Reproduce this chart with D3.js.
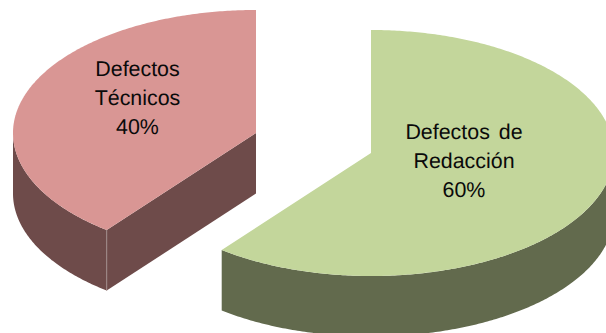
<!DOCTYPE html>
<html>
<head>
<meta charset="utf-8">
<script src="https://cdn.jsdelivr.net/npm/d3@7"></script>
<style>
  html, body { margin: 0; padding: 0; background: #fff; }
  svg { display: block; }
  text { font-family: "Liberation Sans", Arial, sans-serif; font-size: 21.4px; fill: #0a0a0a; text-anchor: middle; text-rendering: geometricPrecision; word-spacing: 3px; }
</style>
</head>
<body>
<svg id="chart" width="606" height="333"></svg>
<script>
const categories = ["Defectos de Redacción", "Defectos Técnicos"];
const shares = [60, 40];
const labelLines = [["Defectos de", "Redacción", "60%"], ["Defectos", "Técnicos", "40%"]];
const topColors = ["#c3d69b", "#d99694"];
const sideColors = ["#626a4d", "#6e4b4a"];
const centers = [[371, 153], [256, 133]];
const labelAnchors = [[464, 139], [137.5, 76]];

const rx = 243, ry = 123, depth = 60.5, lineGap = 29;
const svg = d3.select("#chart");

const slices = d3.pie().sort(null).startAngle(0).endAngle(2 * Math.PI)(shares);

// Slight angular correction from the 3D view, zero at the quarter points.
const warp = a => a + 0.035 * Math.sin(2 * a);
const project = (a, c, drop = 0) => {
  const t = warp(a);
  return [c[0] + rx * Math.sin(t), c[1] - ry * Math.cos(t) + drop];
};
const arcPoints = (a0, a1, c, drop = 0) => {
  const n = Math.max(2, Math.ceil(Math.abs(a1 - a0) / 0.01));
  return d3.range(n + 1).map(i => project(a0 + (a1 - a0) * i / n, c, drop));
};
const line = d3.line();
const HALF = Math.PI / 2;

slices.forEach((s, i) => {
  const c = centers[i];
  const g = svg.append("g").attr("class", "slice");

  // Outer wall: the part of the rim facing the viewer.
  const from = Math.max(s.startAngle, HALF);
  const to = Math.min(s.endAngle, 3 * HALF);
  const wall = arcPoints(from, to, c).concat(arcPoints(to, from, c, depth));
  g.append("path").attr("d", line(wall) + "Z").attr("fill", sideColors[i]);

  // Cut face along the leading radius, visible only on the left slice.
  if (s.startAngle > HALF && s.startAngle < 2 * HALF + 1) {
    const p = project(s.startAngle, c);
    const face = [c, p, [p[0], p[1] + depth], [c[0], c[1] + depth]];
    g.append("path").attr("d", line(face) + "Z").attr("fill", sideColors[i]);
    g.append("line")
      .attr("x1", p[0]).attr("y1", p[1])
      .attr("x2", p[0]).attr("y2", p[1] + depth)
      .attr("stroke", "#a08c8b").attr("stroke-width", 1);
  }

  // Top surface.
  const top = [c].concat(arcPoints(s.startAngle, s.endAngle, c));
  g.append("path").attr("d", line(top) + "Z").attr("fill", topColors[i]);

  // Data label.
  const label = g.append("text").attr("aria-label", categories[i]);
  labelLines[i].forEach((txt, j) => {
    label.append("tspan")
      .attr("x", labelAnchors[i][0])
      .attr("y", labelAnchors[i][1] + j * lineGap)
      .text(txt);
  });
});
</script>
</body>
</html>
